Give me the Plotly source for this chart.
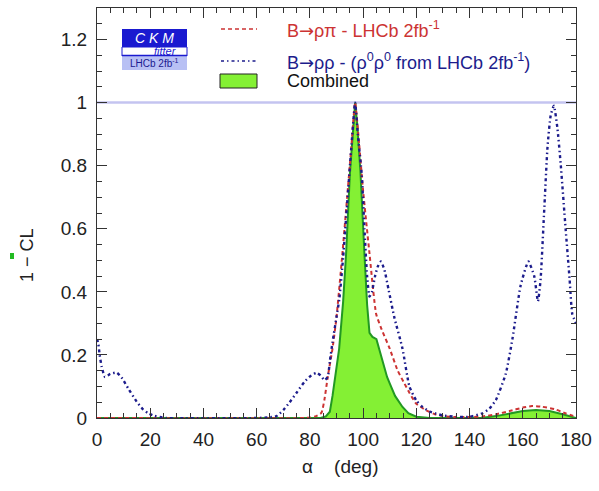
import plotly.graph_objects as go

# ---------------- data ----------------
comb_alpha = [0, 80, 84, 86, 87.5, 88.5, 89.5, 91, 92.5, 93.6, 95, 96.2, 97, 97.8, 99, 100.5,
              101.5, 102.4, 103.5, 105, 106, 107, 108, 109, 110, 112, 114.8, 117, 120, 125,
              140, 145, 150, 155, 160, 165, 170, 175, 178, 180]
comb_cl = [0, 0, 0.0, 0.005, 0.02, 0.07, 0.13, 0.22, 0.37, 0.52, 0.77, 0.93, 1.0, 0.93, 0.78, 0.52,
           0.36, 0.27, 0.257, 0.25, 0.22, 0.19, 0.16, 0.13, 0.11, 0.07, 0.035, 0.015, 0.004, 0.0,
           0.0, 0.001, 0.006, 0.014, 0.022, 0.025, 0.022, 0.012, 0.005, 0.0]

rhopi_alpha = [0, 78, 80, 82, 84.3, 85.5, 86.7, 88.5, 90, 92.1, 94, 95.5, 97, 98.5, 100, 102.3,
               104.9, 107, 110, 113, 115.5, 117.4, 120, 123.6, 127, 130, 135, 140, 145, 150,
               155, 160, 163.5, 167, 172, 176, 180]
rhopi_cl = [0, 0, 0.002, 0.005, 0.016, 0.06, 0.13, 0.22, 0.32, 0.51, 0.70, 0.85, 1.0, 0.87, 0.72, 0.53,
            0.33, 0.28, 0.22, 0.15, 0.11, 0.08, 0.045, 0.025, 0.012, 0.006, 0.003, 0.003, 0.005, 0.012,
            0.022, 0.033, 0.038, 0.036, 0.028, 0.015, 0.004]

rhorho_alpha = [0, 0.5, 1.0, 1.75, 3, 5, 7.4, 9.5, 11.7, 14.9, 17, 19.2, 21.5, 23.6, 26, 60, 64,
                67.4, 70, 72.4, 75, 78, 80.5, 82.5, 84, 85.5, 86.7, 87.5, 88.5, 90, 91.1, 92.5,
                94, 95.5, 97, 98, 99.5, 100.5, 101.5, 102.4, 103.3, 104.5, 105.5, 106.7, 108,
                109.5, 111.7, 114.8, 117.4, 120, 122.2, 125, 127.4, 130, 135, 140, 144.9, 147.5,
                149.9, 153.6, 156.1, 159.2, 162.1, 164.3, 165.7, 166.7, 168, 169.3, 170.5, 171.7,
                173, 174.2, 176.1, 177.6, 178.6, 180]
rhorho_cl = [0.25, 0.235, 0.2, 0.163, 0.13, 0.14, 0.144, 0.125, 0.094, 0.052, 0.03, 0.015, 0.007, 0.003,
             0.0, 0.0, 0.002, 0.006, 0.025, 0.05, 0.08, 0.115, 0.135, 0.143, 0.135, 0.12, 0.13, 0.18,
             0.24, 0.32, 0.38, 0.51, 0.68, 0.85, 1.0, 0.9, 0.77, 0.6, 0.45, 0.385, 0.40, 0.45, 0.48,
             0.496, 0.47, 0.41, 0.32, 0.22, 0.10, 0.055, 0.036, 0.02, 0.014, 0.008, 0.004, 0.004,
             0.015, 0.03, 0.057, 0.14, 0.25, 0.42, 0.496, 0.45, 0.37, 0.44, 0.65, 0.86, 0.96, 0.99,
             0.92, 0.81, 0.60, 0.44, 0.33, 0.30]

x_ticks = [0, 20, 40, 60, 80, 100, 120, 140, 160, 180]
y_ticks = [0, 0.2, 0.4, 0.6, 0.8, 1.0, 1.2]
y_ticktext = ["0", "0.2", "0.4", "0.6", "0.8", "1", "1.2"]

ARROW = "<span style='font-family:DejaVu Sans'>\u2192</span>"
label_rhopi = "B" + ARROW + "\u03c1\u03c0 - LHCb 2fb<sup>-1</sup>"
label_rhorho = "B" + ARROW + "\u03c1\u03c1 - (\u03c1<sup>0</sup>\u03c1<sup>0</sup> from LHCb 2fb<sup>-1</sup>)"
label_comb = "Combined"

# ---------------- styling ----------------
W, H = 599, 491
L, R, T, B = 97, 576, 8, 418
FONT = "Liberation Sans, Arial, sans-serif"
RED = "#cc3333"
BLUE = "#1c1c8c"
GREEN_FILL = "#84f034"
GREEN_LINE = "#229922"
BLUE_DASH = "3px,3px,1.5px,3px"
RED_DASH = "4px,3px"


def px(xp):
    return (xp - L) / (R - L)


def py(yp):
    return (B - yp) / (B - T)


fig = go.Figure()

fig.add_trace(go.Scatter(x=comb_alpha, y=comb_cl, mode="lines", fill="tozeroy",
                         fillcolor=GREEN_FILL, line=dict(color=GREEN_LINE, width=2),
                         name=label_comb, showlegend=False))
fig.add_trace(go.Scatter(x=rhopi_alpha, y=rhopi_cl, mode="lines",
                         line=dict(color=RED, width=2, dash=RED_DASH, shape="spline", smoothing=0.5),
                         name=label_rhopi, showlegend=False))
fig.add_trace(go.Scatter(x=rhorho_alpha, y=rhorho_cl, mode="lines",
                         line=dict(color=BLUE, width=2.4, dash=BLUE_DASH, shape="spline", smoothing=0.5),
                         name=label_rhorho, showlegend=False))

shapes = []
# horizontal line at 1
shapes.append(dict(type="line", xref="paper", yref="y", x0=0, x1=1, y0=1, y1=1,
                   line=dict(color="#c4c4f0", width=2.5), layer="below"))
# legend samples
shapes.append(dict(type="line", xref="paper", yref="paper", x0=px(221), x1=px(257),
                   y0=py(29), y1=py(29), line=dict(color=RED, width=1.5, dash=RED_DASH)))
shapes.append(dict(type="line", xref="paper", yref="paper", x0=px(221), x1=px(257),
                   y0=py(61), y1=py(61), line=dict(color=BLUE, width=1.5, dash=BLUE_DASH)))
shapes.append(dict(type="rect", xref="paper", yref="paper", x0=px(220), x1=px(257),
                   y0=py(88), y1=py(74), fillcolor=GREEN_FILL, line=dict(color="#222222", width=1)))
# CKMfitter logo
shapes.append(dict(type="rect", xref="paper", yref="paper", x0=px(122), x1=px(187),
                   y0=py(47), y1=py(29), fillcolor="#1a1ad0", line=dict(width=0)))
shapes.append(dict(type="rect", xref="paper", yref="paper", x0=px(122), x1=px(187),
                   y0=py(56), y1=py(47), fillcolor="white", line=dict(color="#1a1ad0", width=1)))
shapes.append(dict(type="rect", xref="paper", yref="paper", x0=px(122), x1=px(187),
                   y0=py(70), y1=py(56), fillcolor="#b8c0f4", line=dict(width=0)))
shapes.append(dict(type="line", xref="paper", yref="paper", x0=px(122), x1=px(187),
                   y0=py(55.5), y1=py(55.5), line=dict(color="#1a1ad0", width=1.5)))
# small green mark left of the axis title
shapes.append(dict(type="rect", xref="paper", yref="paper", x0=px(10), x1=px(14),
                   y0=py(259), y1=py(253), fillcolor="#22bb22", line=dict(width=0)))

annotations = [
    dict(xref="paper", yref="paper", x=px(285), y=py(29), text=label_rhopi, showarrow=False,
         xanchor="left", yanchor="middle", font=dict(family=FONT, size=18, color=RED)),
    dict(xref="paper", yref="paper", x=px(285), y=py(61), text=label_rhorho, showarrow=False,
         xanchor="left", yanchor="middle", font=dict(family=FONT, size=18, color=BLUE)),
    dict(xref="paper", yref="paper", x=px(285), y=py(81), text=label_comb, showarrow=False,
         xanchor="left", yanchor="middle", font=dict(family=FONT, size=18, color="#111111")),
    dict(xref="paper", yref="paper", x=px(154), y=py(38), text="<i>C K M</i>", showarrow=False,
         xanchor="center", yanchor="middle", font=dict(family=FONT, size=14, color="white")),
    dict(xref="paper", yref="paper", x=px(165), y=py(51), text="<i>fitter</i>", showarrow=False,
         xanchor="center", yanchor="middle", font=dict(family=FONT, size=11, color="#1a1ad0")),
    dict(xref="paper", yref="paper", x=px(154), y=py(63), text="LHCb 2fb<sup>-1</sup>", showarrow=False,
         xanchor="center", yanchor="middle", font=dict(family=FONT, size=10, color="#1a1a90")),
    dict(xref="paper", yref="paper", x=px(27), y=py(255), text="1 \u2212 CL", showarrow=False,
         textangle=-90, xanchor="center", yanchor="middle",
         font=dict(family=FONT, size=18, color="#222222")),
    dict(xref="paper", yref="paper", x=px(340), y=py(466),
         text="\u03b1\u00a0\u00a0\u00a0\u00a0(deg)", showarrow=False,
         xanchor="center", yanchor="middle", font=dict(family=FONT, size=19, color="#222222")),
]

fig.update_layout(
    width=W, height=H,
    margin=dict(l=L, r=W - R, t=T, b=H - B, pad=0),
    paper_bgcolor="white", plot_bgcolor="white",
    font=dict(family=FONT, size=19, color="#222222"),
    shapes=shapes, annotations=annotations,
    showlegend=False,
)
fig.update_xaxes(range=[0, 180], tickvals=x_ticks, ticks="inside", ticklen=10, tickwidth=1,
                 tickcolor="#333333", showline=True, linecolor="#333333", linewidth=1,
                 mirror="ticks", showgrid=False, zeroline=False, ticklabelstandoff=4,
                 minor=dict(dtick=5, ticks="inside", ticklen=5, tickcolor="#333333", showgrid=False))
fig.update_yaxes(range=[0, 1.3], tickvals=y_ticks, ticktext=y_ticktext,
                 ticks="inside", ticklen=10, tickwidth=1,
                 tickcolor="#333333", showline=True, linecolor="#333333", linewidth=1,
                 mirror="ticks", showgrid=False, zeroline=False, ticklabelstandoff=5,
                 minor=dict(dtick=0.05, ticks="inside", ticklen=5, tickcolor="#333333", showgrid=False))

fig.write_html("out.html", config={"displayModeBar": False},
               post_script="document.body.style.margin='0px';document.body.style.overflow='hidden';")
